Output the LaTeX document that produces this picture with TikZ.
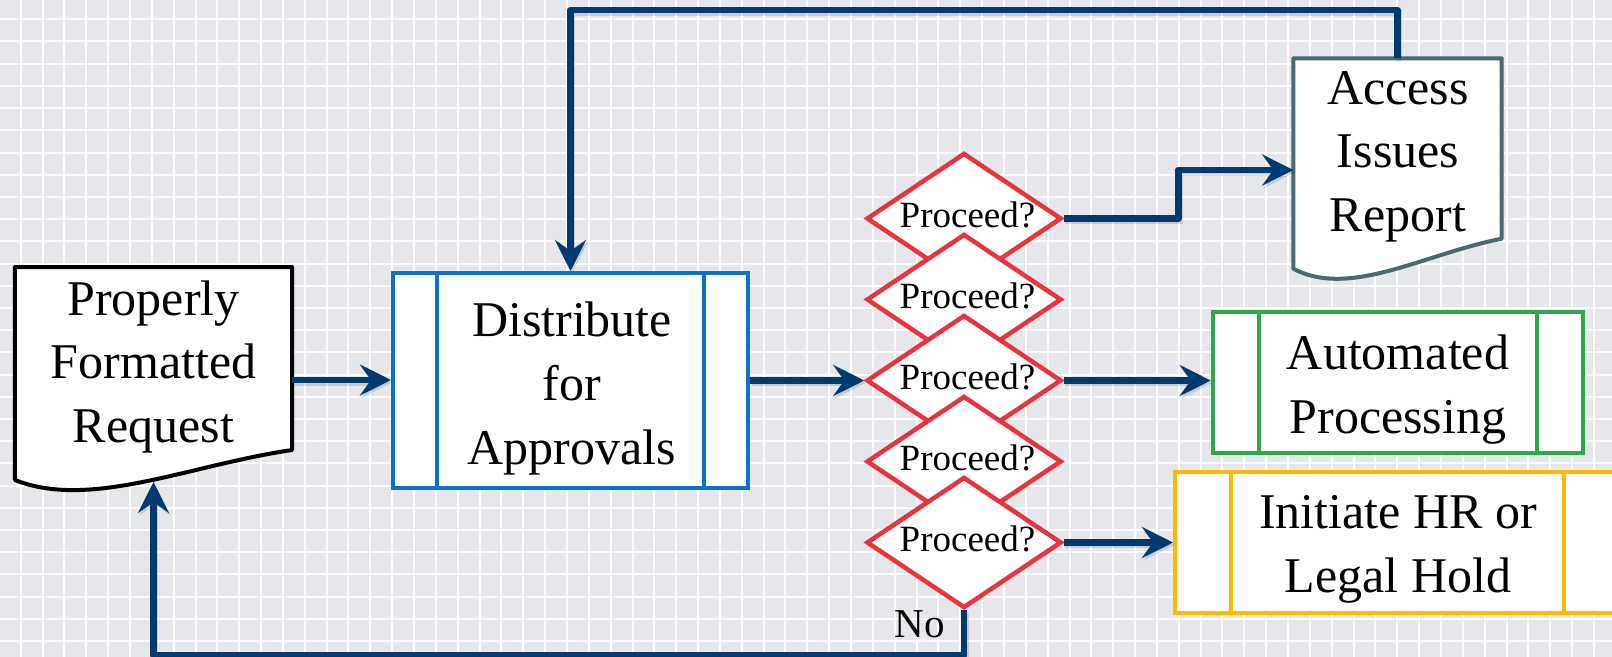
\documentclass[tikz,border=0pt]{standalone}
\usepackage{fontspec}
\setmainfont{Liberation Serif}
\usetikzlibrary{arrows.meta,calc,shapes.geometric}

\definecolor{canvas}{HTML}{E6E7EB}
\definecolor{navy}{HTML}{003B6F}
\definecolor{procblue}{HTML}{0A72C8}
\definecolor{decred}{HTML}{E8343F}
\definecolor{procgreen}{HTML}{2EA84A}
\definecolor{procgold}{HTML}{FFBA00}
\definecolor{slate}{HTML}{4B6770}

% outline of a document symbol with a wavy lower edge, drawn round node #1
\newcommand{\docoutline}[2]{%
  \draw[draw=#2, line width=4bp, fill=white, line join=round]
    (#1.north west) -- (#1.north east) -- ($(#1.south east)+(0,-43)$)
    .. controls ($(#1.south west)!0.63!(#1.south east)+(0,-28)$)
       and ($(#1.south west)!0.27!(#1.south east)+(0,17)$)
    .. ($(#1.south west)+(0,-13)$) -- cycle;}

\begin{document}
\begin{tikzpicture}[x=1bp,y=-1bp,
  gridline/.style={draw=white, line width=2bp, opacity=0.9},
  docnode/.style={rectangle, draw=none, inner sep=0, outer sep=0},
  procbox/.style={rectangle, draw=#1, fill=white, line width=4bp, inner sep=0,
    path picture={
      \draw[#1, line width=4bp]
        ($(path picture bounding box.north west)!0.125!(path picture bounding box.north east)$) --
        ($(path picture bounding box.south west)!0.125!(path picture bounding box.south east)$)
        ($(path picture bounding box.north east)!0.125!(path picture bounding box.north west)$) --
        ($(path picture bounding box.south east)!0.125!(path picture bounding box.south west)$);
    }},
  decision/.style={diamond, draw=decred, fill=white, line width=4.5bp, inner sep=0,
    minimum width=195bp, minimum height=131bp},
  bigtext/.style={font={\fontsize{50bp}{63.7bp}\selectfont}, align=center, inner sep=0},
  asktext/.style={font={\fontsize{37bp}{44bp}\selectfont}, inner sep=0},
  conn/.style={draw=navy, line width=6.5bp, line join=round,
    preaction={draw=black, opacity=0.12, line width=6.5bp,
      transform canvas={shift={(1.5bp,-2.5bp)}}}},
  tip/.style={-{Stealth[length=31bp,width=31bp,inset=11bp]}}
]
\useasboundingbox (0,0) rectangle (1612,657);
\clip (0,0) rectangle (1612,657);

% squared paper background
\fill[canvas] (0,0) rectangle (1612,657);
\foreach \k in {-1,...,73}
  \draw[gridline] ({20.7+21.85*\k},0) -- ({20.7+21.85*\k},657);
\foreach \k in {0,...,29}
  \draw[gridline] (0,{19.3+22.2*\k}) -- (1612,{19.3+22.2*\k});

% documents
\node[docnode, minimum width=277bp, minimum height=226bp] (prop) at (153.5,380) {};
\docoutline{prop}{black}
\node[docnode, minimum width=208.4bp, minimum height=223.4bp] (acc) at (1397.5,170) {};
\docoutline{acc}{slate}

% predefined processes
\node[procbox=procblue, minimum width=355bp, minimum height=215bp] (dist) at (570.5,380.5) {};
\node[procbox=procgreen, minimum width=370.6bp, minimum height=141bp] (auto) at (1398,382.2) {};
\node[procbox=procgold, minimum width=445bp, minimum height=141.6bp] (hold) at (1397.5,542.5) {};

% stacked decisions
\node[decision] (d1) at (964,218.5) {};
\node[decision] (d2) at (964,299.5) {};
\node[decision] (d3) at (964,380.5) {};
\node[decision] (d4) at (964,461.5) {};
\node[decision] (d5) at (964,542.5) {};

% texts
\node[bigtext] (propT) at (153.5,366.8) {Properly\\Formatted\\Request};
\node[bigtext] (distT) at (572,388.3) {Distribute\\for\\Approvals};
\node[bigtext] (accT) at (1398,156.7) {Access\\Issues\\Report};
\node[bigtext] (autoT) at (1398,389.6) {Automated\\Processing};
\node[bigtext] (holdT) at (1398,549.6) {Initiate HR or\\Legal Hold};
\foreach \n/\y in {1/218.5,2/299.5,3/380.5,4/461.5,5/542.5}
  \node[asktext] (q\n) at (967.5,\y-3.6) {Proceed?};
\node[font={\fontsize{41bp}{48bp}\selectfont}, inner sep=0] (no) at (920,624.4) {No};

% connectors
\coordinate (propin) at ($(prop.south)+(0,-11)$);
\draw[conn, tip] (prop.east) -- (prop.east -| dist.west);
\draw[conn, tip] (dist.east) -- (d3.west);
\draw[conn, tip] (d1.east) -- ++(114.5,0) |- (acc.west);
\draw[conn, tip] (acc.north) -- ++(0,-48.3) -| (dist.north);
\draw[conn, tip] (d3.east) -- (d3.east -| auto.west);
\draw[conn, tip] (d5.east) -- (d5.east -| hold.west);
\draw[conn, tip] (d5.south) -- ++(0,45) -| (propin);
\end{tikzpicture}
\end{document}
